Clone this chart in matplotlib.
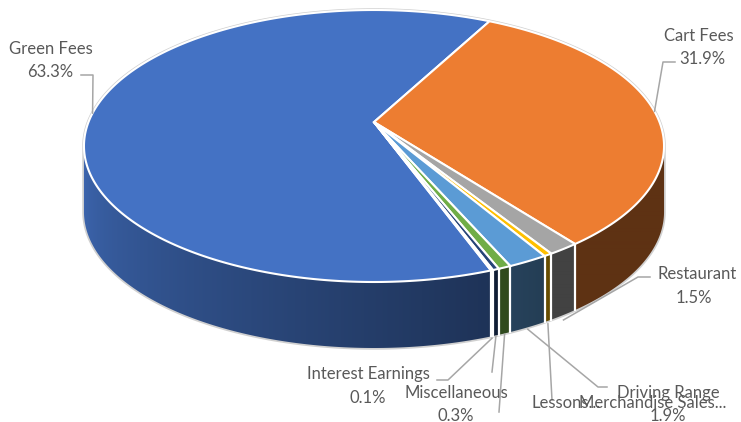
import numpy as np
import matplotlib.pyplot as plt
from matplotlib.patches import Polygon
from matplotlib.colors import to_rgb

names = ['Green Fees', 'Cart Fees', 'Restaurant', 'Lessons', 'Driving Range',
         'Merchandise Sales', 'Miscellaneous', 'Interest Earnings']
values = [63.3, 31.9, 1.5, 0.4, 1.9, 0.6, 0.3, 0.1]
colors = ['#4472C4', '#ED7D31', '#A5A5A5', '#FFC000', '#5B9BD5',
          '#70AD47', '#264478', '#9E480E']

# pie geometry (pixels): perspective tilt, centre and wall height
CX, Y0, K, RY, A, DEPTH = 374, 146, 285.5, 136, 0.176, 66
FIRST_ANGLE = 160

total = sum(values)
spans = np.array(values) / total * 360
starts = FIRST_ANGLE + np.concatenate([[0], np.cumsum(spans)[:-1]])
ends = starts + spans


def proj(theta, r=1.0, drop=0.0):
    t = np.radians(theta)
    u = r * np.sin(t)
    w = r * np.cos(t)
    d = 1 + A * w
    return CX + K * u / d, Y0 - RY * (w + A) / d + drop


def shade(theta):
    # walls get darker towards the right-hand side
    th = np.mod(theta, 360)
    return np.clip(0.40 + (th - 150) / 110 * 0.50, 0.40, 0.90)


fig = plt.figure(figsize=(7.41, 4.22), dpi=100)
ax = fig.add_axes([0, 0, 1, 1])
ax.set_xlim(0, 741)
ax.set_ylim(422, 0)
ax.axis('off')

lo = np.degrees(np.arccos(-A))
hi = 360 - lo

# outer silhouette
back = np.linspace(hi, lo + 360, 400)
front = np.linspace(lo, hi, 300)
bx, by = proj(back)
fx, fy = proj(front, drop=DEPTH)
ax.add_patch(Polygon(np.column_stack([np.concatenate([bx, fx]),
                                      np.concatenate([by, fy])]),
                     closed=True, fill=False, edgecolor='#d0d0d0', lw=2.5,
                     zorder=1))

# column -> angle lookup along the visible front of the rim
th_lut = np.linspace(lo, hi, 2000)
x_lut, _ = proj(th_lut)
cols = np.arange(0, 741) + 0.5
th_cols = np.interp(cols, x_lut[::-1], th_lut[::-1])

# side walls, shaded by a horizontal gradient
for s, e, c in zip(starts, ends, colors):
    base = np.array(to_rgb(c))
    for off in (0, 360):
        a0 = max(s, lo + off)
        a1 = min(e, hi + off)
        if a1 <= a0:
            continue
        th = np.linspace(a0, a1, max(3, int((a1 - a0) / 0.3) + 2))
        tx, ty = proj(th)
        wall = np.column_stack([np.concatenate([tx, tx[::-1]]),
                                np.concatenate([ty, ty[::-1] + DEPTH])])
        poly = Polygon(wall, closed=True, facecolor='none', edgecolor='none')
        ax.add_patch(poly)
        grad = base[None, :] * shade(th_cols)[:, None]
        img = np.repeat(grad[None, :, :], 2, axis=0)
        im = ax.imshow(img, extent=(0, 741, 422, 0), aspect='auto',
                       interpolation='bilinear', zorder=2)
        im.set_clip_path(poly)

# white seams between slices on the wall
for b in starts:
    for off in (0, 360):
        if lo + off < b < hi + off:
            x, y = proj(b)
            ax.plot([x, x], [y, y + DEPTH], color='white', lw=1.6, zorder=3)

# top faces
cx0, cy0 = proj(0, r=0.0)
for s, e, c in zip(starts, ends, colors):
    th = np.linspace(s, e, max(3, int((e - s) / 0.5) + 2))
    x, y = proj(th)
    pts = np.column_stack([np.concatenate([[cx0], x]), np.concatenate([[cy0], y])])
    ax.add_patch(Polygon(pts, closed=True, facecolor=c, edgecolor='white',
                         lw=1.5, joinstyle='miter', zorder=4))

# data labels
text_kw = dict(family='Lato', fontsize=12, color='#595959', ha='center',
               va='baseline', zorder=6)
pct = {n: f'{v / total * 100:.1f}%' for n, v in zip(names, values)}
mids = {n: (s + e) / 2 for n, s, e in zip(names, starts, ends)}

ax.text(51, 54, 'Green Fees', **text_kw)
ax.text(50, 77, pct['Green Fees'], **text_kw)
ax.text(699, 41, 'Cart Fees', **text_kw)
ax.text(702, 64, pct['Cart Fees'], **text_kw)
ax.text(697, 279, 'Restaurant', **text_kw)
ax.text(694, 303, pct['Restaurant'], **text_kw)
ax.text(368, 379, 'Interest Earnings', **text_kw)
ax.text(368, 403, pct['Interest Earnings'], **text_kw)
ax.text(456, 398, 'Miscellaneous', **text_kw)
ax.text(456, 421, pct['Miscellaneous'], **text_kw)
ax.text(668, 398, 'Driving Range', **text_kw)
ax.text(668, 421, pct['Driving Range'], **text_kw)
ax.text(566, 408, 'Lessons...', **text_kw)
ax.text(653, 408, 'Merchandise Sales...', **text_kw)

# leader lines
line_kw = dict(color='#a6a6a6', lw=1.1, zorder=5)


def leader(name, pts, on_wall=True, extra=0.0):
    x, y = proj(mids[name], drop=(DEPTH + extra) if on_wall else 0)
    xs = [p[0] for p in pts] + [x]
    ys = [p[1] for p in pts] + [y]
    ax.plot(xs, ys, **line_kw)


leader('Green Fees', [(81, 75), (93, 75)], on_wall=False)
leader('Cart Fees', [(675, 62), (663, 62)], on_wall=False)
leader('Restaurant', [(650, 277), (638, 277)], extra=5)
leader('Interest Earnings', [(437, 380), (448, 380)], extra=2)
leader('Miscellaneous', [(492, 372)], extra=1)
leader('Merchandise Sales', [(499, 412)], extra=1)
leader('Lessons', [(552, 400)], extra=3)
leader('Driving Range', [(607, 387), (598, 387)], extra=2)

fig.savefig('out.png', dpi=100)
